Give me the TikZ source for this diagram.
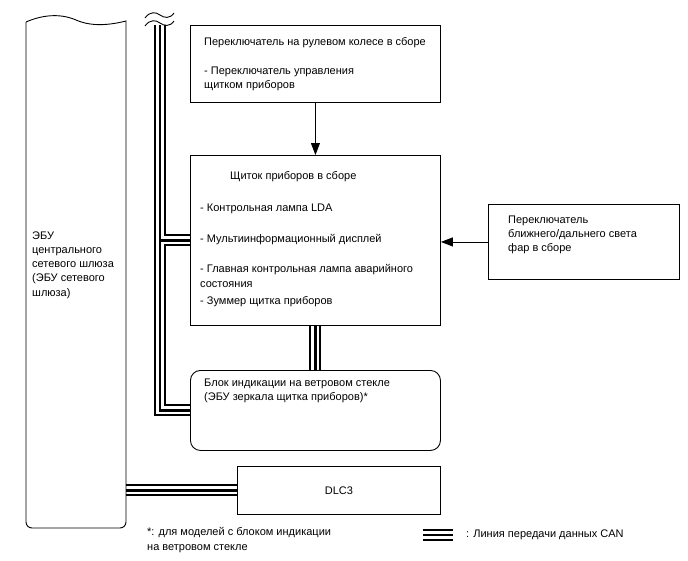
\documentclass[tikz,border=0pt]{standalone}
\usepackage{fontspec}
\setmainfont{Liberation Sans}
\usetikzlibrary{arrows.meta,positioning,calc,backgrounds}

\tikzset{
  box/.style={draw,thick,line width=0.9pt,inner sep=0,anchor=north west},
  txt/.style={anchor=north west,align=left,inner sep=0,font=\fontsize{11}{14.2}\selectfont},
  arrow/.style={line width=0.9pt,-{Triangle[length=12pt,width=9pt]}},
}

\begin{document}
\begin{tikzpicture}[x=1pt,y=-1pt]
\useasboundingbox (0,0) rectangle (688,560);

% boxes
\node[box,minimum width=250,minimum height=77] (steer) at (190,25) {};
\node[box,minimum width=250,minimum height=170] (cluster) at (190,155) {};
\node[box,minimum width=191,minimum height=75] (dimmer) at (488,204) {};
\node[box,rounded corners=10pt,minimum width=250,minimum height=80] (hud) at (190,370) {};
\node[box,minimum width=203,minimum height=48] (dlc) at (237,466) {};

% gateway ECU, wavy top
\draw[line width=0.9pt] (26,22) .. controls (42,15) and (60,13) .. (76,20)
  .. controls (92,27) and (110,25) .. (126,21)
  [rounded corners=6pt] -- (126,528) -- (26,528) -- (26,22);
\coordinate (gwr) at (126,300);

% texts
\node[txt] (steert) at (204,37.5) {Переключатель на рулевом колесе в сборе};
\node[txt] (steeri) at (204,66.5) {- Переключатель управления\\щитком приборов};
\node[txt] (clustert) at (230,171.5) {Щиток приборов в сборе};
\node[txt] (lda) at (200,203.5) {- Контрольная лампа LDA};
\node[txt] (mid) at (200,234.5) {- Мультиинформационный дисплей};
\node[txt] (warn) at (200,264.5) {- Главная контрольная лампа аварийного\\состояния};
\node[txt] (buzz) at (200,296.5) {- Зуммер щитка приборов};
\node[txt] (dimmert) at (508,215.5) {Переключатель\\ближнего/дальнего света\\фар в сборе};
\node[txt] (hudt) at (204,378.5) {Блок индикации на ветровом стекле\\(ЭБУ зеркала щитка приборов)*};
\node[txt,anchor=center] (dlct) at (dlc.center) {DLC3};
\node[txt] (gwt) at (32,231.5) {ЭБУ\\центрального\\сетевого шлюза\\(ЭБУ сетевого\\шлюза)};
\node[txt] (note) at (147,527.5) {*: для моделей с блоком индикации\\на ветровом стекле};
\node[txt,anchor=west] (legt) at (466,535) {: Линия передачи данных CAN};

% arrows
\draw[arrow] (steer.south) -- (cluster.north);
\draw[arrow] (dimmer.west) -- (cluster.east |- dimmer.west);

% CAN lines
\coordinate (bustop) at (160,25);
\coordinate (buscorner) at (bustop |- hud.west);
\coordinate (legl) at (423,535);
\coordinate (legr) at (453,535);
\begin{pgfonlayer}{background}
  \foreach \lw/\lc in {12/black,8/white,2.2/black} {
    \draw[line width=\lw pt,\lc] (bustop) -- (buscorner) -- (hud.west);
    \draw[line width=\lw pt,\lc] (bustop |- cluster.west) -- (cluster.west);
    \draw[line width=\lw pt,\lc] (cluster.south) -- (hud.north);
    \draw[line width=\lw pt,\lc] (gwr |- dlc.west) -- (dlc.west);
    \draw[line width=\lw pt,\lc] (legl) -- (legr);
  }
\end{pgfonlayer}

% break marks
\draw[line width=0.9pt] (145,18) .. controls (150,11) and (156,12) .. (160,15)
  .. controls (164,18) and (170,19) .. (174,13);
\draw[line width=0.9pt] (145,26) .. controls (150,19) and (156,20) .. (160,23)
  .. controls (164,26) and (170,27) .. (174,21);

\end{tikzpicture}
\end{document}
